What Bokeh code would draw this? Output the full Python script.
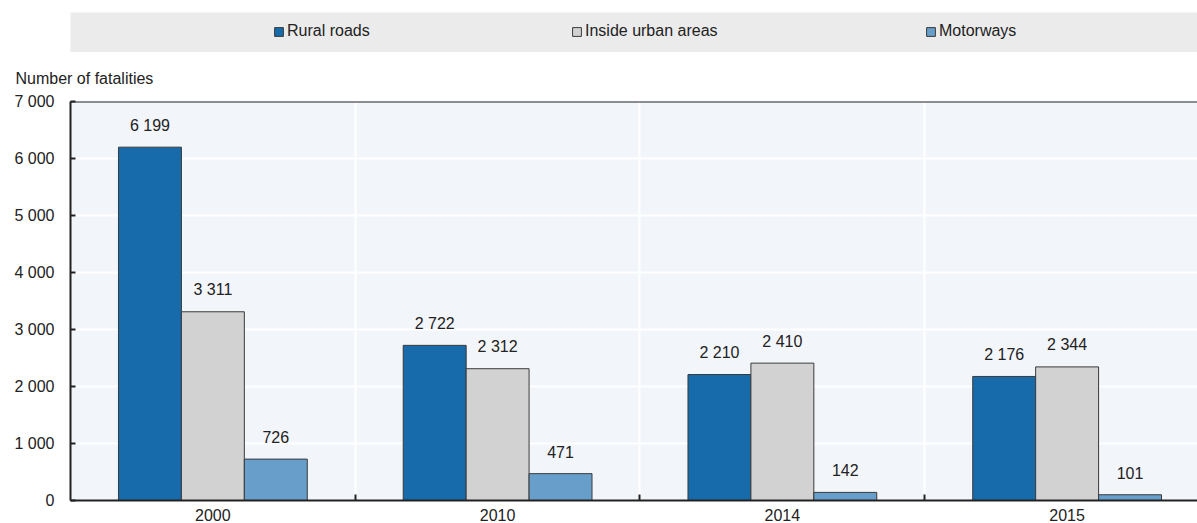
from bokeh.plotting import figure
from bokeh.models import Range1d, FixedTicker, Legend, LegendItem, Span, Title
from bokeh.layouts import column
from bokeh.embed import file_html
from bokeh.resources import INLINE
from bokeh.core.properties import value

# ---------------- data ----------------
years = ["2000", "2010", "2014", "2015"]
series = ["Rural roads", "Inside urban areas", "Motorways"]
rural_roads = [6199, 2722, 2210, 2176]
inside_urban = [3311, 2312, 2410, 2344]
motorways = [726, 471, 142, 101]
y_ticks = [0, 1000, 2000, 3000, 4000, 5000, 6000, 7000]
y_tick_labels = ["0", "1 000", "2 000", "3 000", "4 000", "5 000", "6 000", "7 000"]
y_title = "Number of fatalities"

# ---------------- style ----------------
FONT = "Liberation Sans"
FS = "16px"
COLORS = ["#176bab", "#d2d2d2", "#689fca"]
TXT = "#222222"
W = 1197
BAR_W = 0.221

# ---------------- main chart ----------------
p = figure(width=W, height=471, x_range=Range1d(0, 1128 / 285), y_range=Range1d(0, 7000),
           output_backend="svg", toolbar_location=None,
           min_border_left=69, min_border_right=0, min_border_top=49, min_border_bottom=23,
           background_fill_color="#f2f5fa", border_fill_color="white", outline_line_color=None)

centers = [i + 0.5 for i in range(len(years))]
values = [rural_roads, inside_urban, motorways]
offsets = [-BAR_W, 0.0, BAR_W]
for vals, off, col in zip(values, offsets, COLORS):
    xs = [c + off for c in centers]
    p.vbar(x=xs, top=vals, width=BAR_W, bottom=0, fill_color=col, line_color="#3a3a3a", line_width=1)
    p.text(x=xs, y=vals, text=[f"{v:,}".replace(",", " ") for v in vals],
           text_align="center", text_baseline="alphabetic", y_offset=-22,
           text_font=value(FONT), text_font_size=FS, text_color=TXT)

# axes
p.xaxis.ticker = FixedTicker(ticks=centers, minor_ticks=[1, 2, 3])
p.xaxis.major_label_overrides = {c: y for c, y in zip(centers, years)}
p.xaxis.major_tick_in = 0
p.xaxis.major_tick_out = 0
p.xaxis.minor_tick_in = 6
p.xaxis.minor_tick_out = 0
p.xaxis.minor_tick_line_color = TXT
p.xaxis.minor_tick_line_width = 2
p.xaxis.major_label_standoff = 8

p.yaxis.ticker = FixedTicker(ticks=y_ticks)
p.yaxis.major_label_overrides = {t: l for t, l in zip(y_ticks, y_tick_labels)}
p.yaxis.major_tick_in = 5
p.yaxis.major_tick_out = 0
p.yaxis.minor_tick_line_color = None
p.yaxis.major_tick_line_color = TXT
p.yaxis.major_tick_line_width = 2
p.yaxis.major_label_standoff = 16

for ax in (p.xaxis, p.yaxis):
    ax.axis_line_color = TXT
    ax.axis_line_width = 2
    ax.major_label_text_font = FONT
    ax.major_label_text_font_size = FS
    ax.major_label_text_color = TXT

p.ygrid.grid_line_color = "white"
p.ygrid.grid_line_width = 2
p.xgrid.grid_line_color = None
p.xgrid.minor_grid_line_color = "white"
p.xgrid.minor_grid_line_width = 2

p.add_layout(Span(location=7000, dimension="width", line_color=TXT, line_width=2))

p.add_layout(Title(text=y_title, align="left", offset=-55, standoff=30,
                   text_font=FONT, text_font_size=FS, text_font_style="normal",
                   text_color=TXT), "above")

# ---------------- legend band ----------------
leg = figure(width=W, height=52, x_range=Range1d(0, 1), y_range=Range1d(0, 1),
             x_axis_type=None, y_axis_type=None,
             output_backend="svg", toolbar_location=None,
             min_border_left=70, min_border_right=0, min_border_top=12, min_border_bottom=0,
             background_fill_color="#ebebeb", border_fill_color="white", outline_line_color=None)
leg.grid.visible = False

legend_x = [203, 501, 855]
for name, col, lx in zip(series, COLORS, legend_x):
    r = leg.vbar(x=[0.5], top=[float("nan")], bottom=[float("nan")], width=0.1,
                 fill_color=col, line_color="#3a3a3a", line_width=1)
    lg = Legend(items=[LegendItem(label=name, renderers=[r])], location=(lx, 12),
                orientation="horizontal", padding=0, margin=0, border_line_color=None,
                background_fill_alpha=0, glyph_width=11, glyph_height=11, label_standoff=3,
                label_height=11, label_text_font=FONT, label_text_font_size=FS,
                label_text_color=TXT)
    leg.add_layout(lg)

layout = column(leg, p, spacing=0)
open("out.html", "w").write(file_html(layout, INLINE))
